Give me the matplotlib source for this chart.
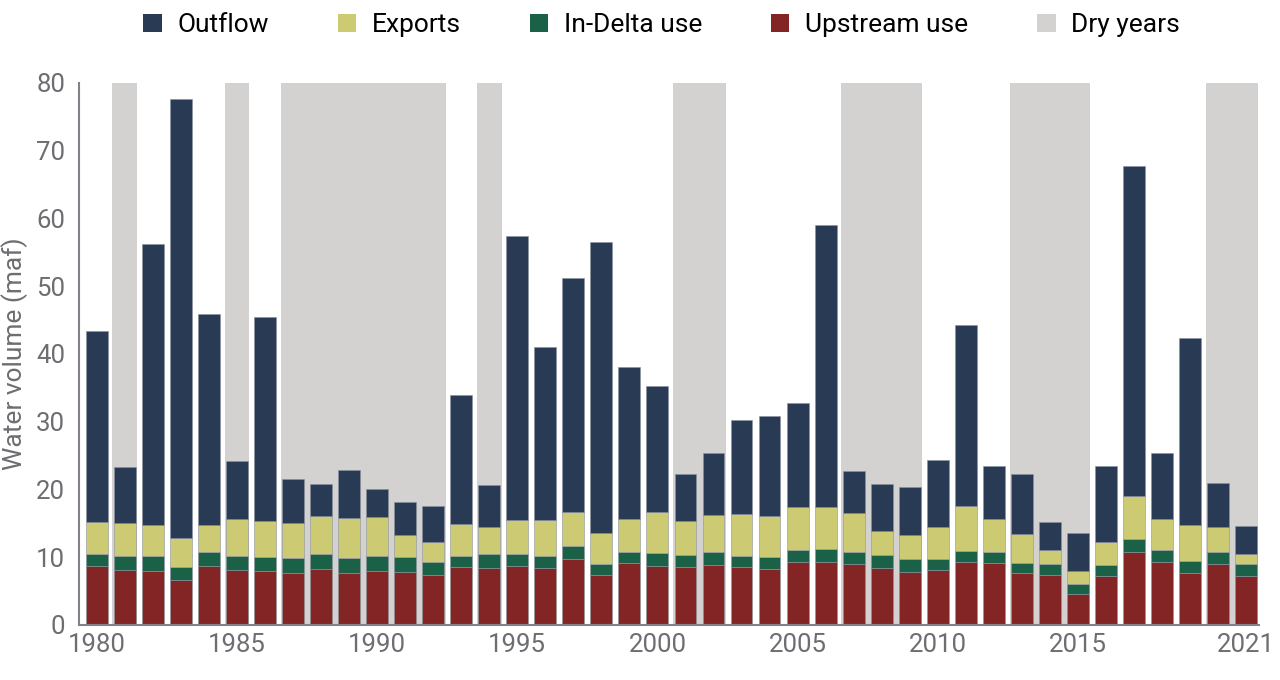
import matplotlib
matplotlib.use("Agg")
import matplotlib.pyplot as plt
import numpy as np
from matplotlib.patches import Patch

plt.rcParams["font.family"] = ["Roboto", "DejaVu Sans"]

years = list(range(1980, 2022))

upstream = [8.7, 8.1, 8.0, 6.7, 8.7, 8.1, 7.9, 7.7, 8.2, 7.7,
            8.0, 7.8, 7.4, 8.55, 8.45, 8.65, 8.45, 9.7, 7.4, 9.2,
            8.65, 8.55, 8.9, 8.55, 8.3, 9.3, 9.35, 9.0, 8.4, 7.8,
            8.1, 9.35, 9.2, 7.7, 7.4, 4.6, 7.2, 10.8, 9.25, 7.7,
            9.0, 7.2]
in_delta = [1.8, 2.1, 2.1, 1.85, 2.1, 2.0, 2.1, 2.2, 2.2, 2.2,
            2.1, 2.2, 1.95, 1.55, 2.0, 1.75, 1.65, 1.9, 1.6, 1.6,
            1.95, 1.75, 1.8, 1.55, 1.7, 1.7, 1.85, 1.8, 1.9, 1.9,
            1.6, 1.55, 1.6, 1.5, 1.6, 1.4, 1.6, 1.9, 1.85, 1.8,
            1.8, 1.8]
exports = [4.65, 4.8, 4.7, 4.35, 3.9, 5.5, 5.3, 5.1, 5.65, 5.9,
           5.8, 3.25, 2.95, 4.8, 4.05, 5.1, 5.4, 5.0, 4.6, 4.8,
           6.1, 5.0, 5.5, 6.3, 6.05, 6.4, 6.2, 5.7, 3.6, 3.5,
           4.7, 6.6, 4.9, 4.2, 2.1, 2.0, 3.4, 6.3, 4.5, 5.2,
           3.6, 1.5]
outflow = [28.2, 8.3, 41.4, 64.7, 31.2, 8.6, 30.1, 6.5, 4.75, 7.0,
           4.2, 4.85, 5.3, 19.0, 6.2, 41.9, 25.5, 34.6, 42.9, 22.5,
           18.5, 7.0, 9.2, 13.85, 14.85, 15.4, 41.6, 6.2, 6.9, 7.1,
           10.0, 26.8, 7.8, 8.9, 4.1, 5.5, 11.2, 48.8, 9.8, 27.6,
           6.6, 4.1]

dry_years = [1981, 1985, 1987, 1988, 1989, 1990, 1991, 1992, 1994,
             2001, 2002, 2007, 2008, 2009, 2013, 2014, 2015, 2020, 2021]

tick_years = [1980, 1985, 1990, 1995, 2000, 2005, 2010, 2015, 2021]

C_OUT = "#293a55"
C_EXP = "#cdca74"
C_DELTA = "#1a6147"
C_UP = "#832525"
C_DRY = "#d3d2d0"
GREY = "#6d6e71"

fig = plt.figure(figsize=(12.8, 6.8), dpi=100)
ax = fig.add_axes([0.0617, 0.081, 0.9219, 0.797])

x = np.arange(len(years))

# dry-year shading, grouped into runs of consecutive years
idx = [years.index(y) for y in dry_years]
runs = []
for i in idx:
    if runs and i == runs[-1][1] + 1:
        runs[-1][1] = i
    else:
        runs.append([i, i])
for a, b in runs:
    ax.axvspan(a - 0.44, b + 0.44, color=C_DRY, lw=0, zorder=0)

w = 0.78
edge = dict(edgecolor="#8b93a0", linewidth=0.4, zorder=2)
up = np.array(upstream)
dl = np.array(in_delta)
ex = np.array(exports)
of = np.array(outflow)
ax.bar(x, up, w, color=C_UP, **edge)
ax.bar(x, dl, w, bottom=up, color=C_DELTA, **edge)
ax.bar(x, ex, w, bottom=up + dl, color=C_EXP, **edge)
ax.bar(x, of, w, bottom=up + dl + ex, color=C_OUT, **edge)

ax.set_xlim(-0.635, len(years) - 0.54)
ax.set_ylim(0, 80)
ax.set_yticks(range(0, 81, 10))
ax.set_xticks([years.index(y) for y in tick_years])
ax.set_xticklabels([str(y) for y in tick_years])

for s in ["top", "right"]:
    ax.spines[s].set_visible(False)
for s in ["left", "bottom"]:
    ax.spines[s].set_color("#7f8289")
    ax.spines[s].set_linewidth(1.5)
ax.tick_params(axis="both", length=0, labelsize=18.5, labelcolor=GREY)
ax.tick_params(axis="y", pad=10)
ax.tick_params(axis="x", pad=6)
ax.set_ylabel("Water volume (maf)", fontsize=19, color=GREY, labelpad=6)

handles = [Patch(facecolor=C_OUT, label="Outflow"),
           Patch(facecolor=C_EXP, label="Exports"),
           Patch(facecolor=C_DELTA, label="In-Delta use"),
           Patch(facecolor=C_UP, label="Upstream use"),
           Patch(facecolor=C_DRY, label="Dry years")]
fig.legend(handles=handles, loc="center", bbox_to_anchor=(0.517, 0.963),
           ncol=5, frameon=False, fontsize=19, handlelength=0.7,
           handleheight=0.7, handletextpad=0.6, columnspacing=2.6)

fig.savefig("out.png", dpi=100)
